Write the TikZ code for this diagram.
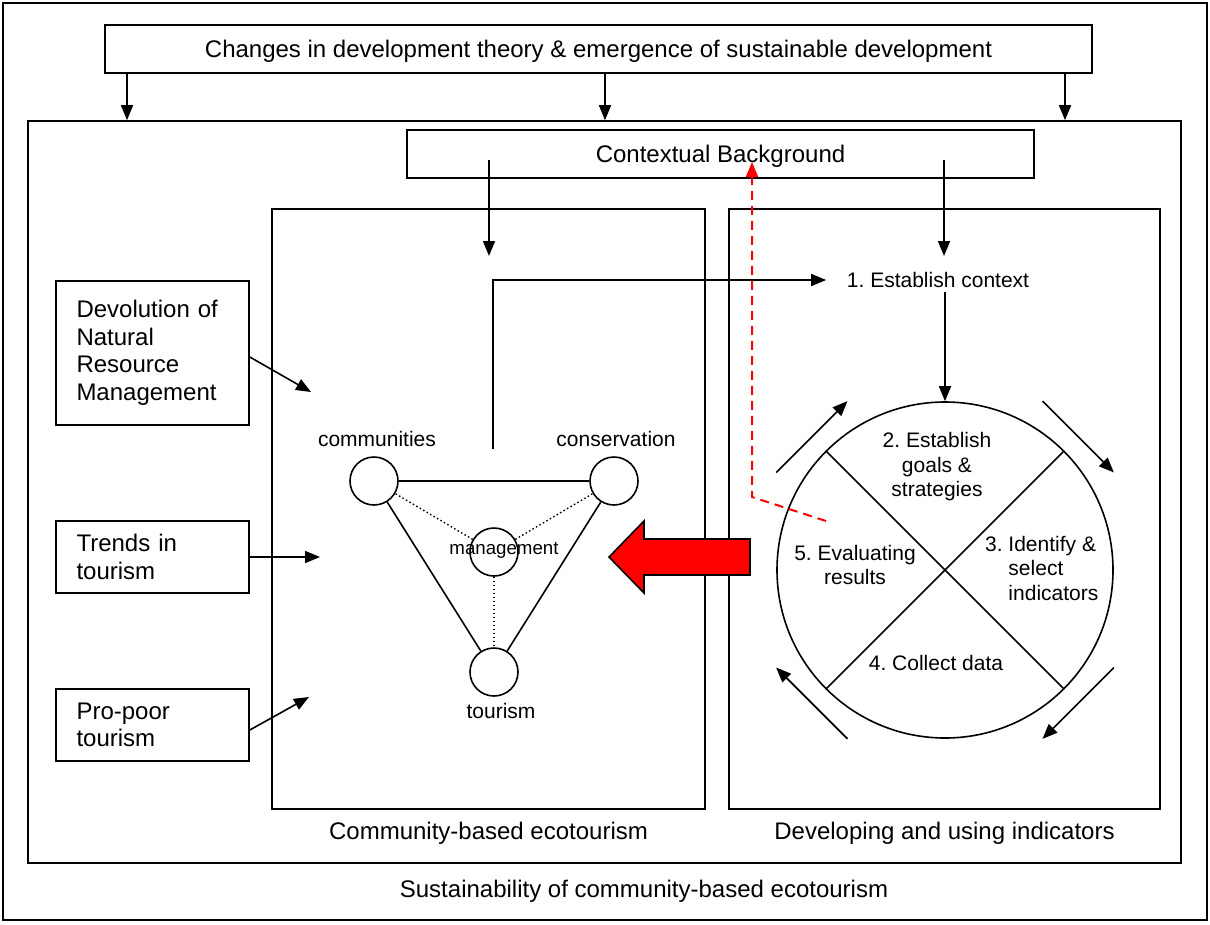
\documentclass[tikz,border=0pt]{standalone}
\usepackage{fontspec}
\setmainfont{Liberation Sans}
\usetikzlibrary{arrows.meta,calc}
\frenchspacing

\begin{document}
\begin{tikzpicture}
  [x=1pt,y=-1pt,line width=1.6pt,
   every node/.style={font=\fontsize{21}{27}\selectfont},
   big/.style={font=\fontsize{24}{27.5}\selectfont},
   box/.style={draw,rectangle,inner sep=0pt},
   ring/.style={draw,circle,minimum size=48pt,inner sep=0pt},
   arr/.style={-{Triangle[length=15pt,width=12pt]}},
   redarr/.style={red,line width=2pt,dash pattern=on 9pt off 6pt,-{Triangle[length=15pt,width=12pt]}},
   cyc/.style={font=\fontsize{21}{24.5}\selectfont}]
  \useasboundingbox (0,0) rectangle (1210,924);
  \draw[line width=1.3pt] (3,3) rectangle (1207,920);

  % frames
  \node[box,big,text depth=0pt,minimum width=987pt,minimum height=48pt] (top) at (598.5,49) {Changes in development theory \& emergence of sustainable development};
  \node[box,minimum width=1153pt,minimum height=742pt] (main) at (604.5,492) {};
  \node[box,big,text depth=0pt,minimum width=627pt,minimum height=48pt] (ctx) at (720.5,154) {Contextual Background};
  \node[box,minimum width=433pt,minimum height=600pt] (cbe) at (488.5,509) {};
  \node[box,minimum width=431pt,minimum height=600pt] (dui) at (944.5,509) {};
  \node[big] (cbelab) at (488.5,833) {Community-based ecotourism};
  \node[big] (duilab) at (944.5,833) {Developing and using indicators};
  \node[big] (mainlab) at (644,891) {Sustainability of community-based ecotourism};

  \foreach \x in {127,605,1065}
    \draw[arr] (\x,0 |- top.south) -- (\x,0 |- main.north);
  \draw[arr] ([xshift=0.5pt]cbe.north |- 0,160) -- ([xshift=0.5pt]cbe.north |- 0,256);
  \draw[arr] ([xshift=-0.5pt]dui.north |- 0,160) -- ([xshift=-0.5pt]dui.north |- 0,256);

  % drivers on the left
  \node[box,big,minimum width=193pt,minimum height=144pt,text width=152pt,align=left] (devol) at (152.5,353) {Devolution of\\Natural\\Resource\\Management};
  \node[box,big,minimum width=193pt,minimum height=72pt,text width=152pt,align=left] (trends) at (152.5,557) {Trends in\\tourism};
  \node[box,big,minimum width=193pt,minimum height=72pt,text width=152pt,align=left] (poor) at (152.5,725) {Pro-poor\\tourism};
  \coordinate (devolto) at (311,392);
  \coordinate (trendsto) at (320,557);
  \coordinate (poorto) at (309,697);
  \draw[arr] ([yshift=-4pt]devol.east) -- (devolto);
  \draw[arr] (trends.east) -- (trendsto);
  \draw[arr] ([yshift=-5pt]poor.east) -- (poorto);

  % triangle
  \node[ring] (comm) at (374,481) {};
  \node[ring] (cons) at (614,481) {};
  \node[ring] (mgmt) at (494,552) {};
  \node[ring] (tour) at (494,672) {};
  \node (commlab) at (377,439) {communities};
  \node (conslab) at (616,439) {conservation};
  \node[font=\fontsize{18.7}{22}\selectfont] (mgmtlab) at (504,550) {management};
  \node (tourlab) at (501,711) {tourism};
  \foreach \from/\to in {comm/cons,comm/tour,cons/tour}
    \draw (\from) -- (\to);
  \foreach \to in {comm,cons,tour}
    \draw[line width=1.4pt,dash pattern=on 1.5pt off 2.5pt] (mgmt) -- (\to);

  % indicator cycle
  \node[inner xsep=20pt] (estab) at (938,280) {1. Establish context};
  \coordinate (linkstart) at (493,449);
  \draw[arr] (linkstart) |- (estab.west);
  \node[draw,circle,minimum size=336pt,inner sep=0pt] (cycle) at (945,570) {};
  \draw[arr] (estab.south -| cycle.north) -- (cycle.north);
  \draw (cycle.45) -- (cycle.225);
  \draw (cycle.135) -- (cycle.315);
  \node[cyc,align=center] (goals) at (937,467) {2. Establish\\goals \&\\strategies};
  \node[cyc,align=left,anchor=west] (ident) at (981,568) {3. Identify \&\\\phantom{3. }select\\\phantom{3. }indicators};
  \node (collect) at (936,663) {4. Collect data};
  \node[cyc,align=center] (evalr) at (855,565) {5. Evaluating\\results};
  \foreach \a in {150,60,-30,-120}
    \draw[arr] ($(cycle.center)+(\a:195pt)$) -- ($(cycle.center)+(\a-30:195pt)$);

  % feedback
  \coordinate (evalpt) at (826,521);
  \coordinate (bend) at (752,497);
  \draw[redarr] (evalpt) -- (bend) -- ($(bend |- ctx.center)+(0,8)$);
  \draw[fill=red] (750,539) -- (644,539) -- (644,521) -- (609,557) -- (644,593) -- (644,575) -- (750,575) -- cycle;
\end{tikzpicture}
\end{document}
